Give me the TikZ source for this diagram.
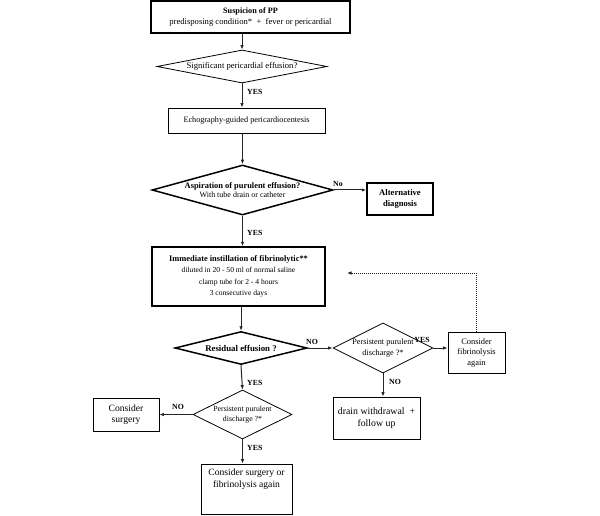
\documentclass[tikz,border=0pt]{standalone}
\usepackage{fontspec}
\setmainfont{Liberation Serif}
\usetikzlibrary{shapes.geometric,arrows.meta}
\begin{document}
\begin{tikzpicture}[x=1pt,y=-1pt,
  box/.style={draw=black,line width=0.8pt,rectangle,inner sep=1pt,align=center},
  thickbox/.style={box,line width=1.5pt},
  dia/.style={draw=black,line width=0.8pt,diamond,inner sep=0pt,align=center},
  thickdia/.style={dia,line width=1.5pt},
  conn/.style={draw=black!85,line width=1pt,-{Latex[length=4.5pt,width=3.5pt]}},
  lab/.style={font=\fontsize{7.8}{8}\selectfont\bfseries,inner sep=0pt}
]
\useasboundingbox (0,0) rectangle (600,516);
\fill[white] (0,0) rectangle (600,516);

\node[thickbox,minimum width=199pt,minimum height=32pt,font=\fontsize{8.6}{10.5}\selectfont] (top) at (250.5,17)
  {\textbf{\fontsize{8.2}{10.5}\selectfont Suspicion of PP}\\predisposing condition*\ \ +\ \ fever or pericardial};
\node[dia,aspect=5.15,minimum width=170pt,minimum height=33pt,font=\fontsize{8.6}{9}\selectfont] (sig) at (242,66.5)
  {Significant pericardial effusion?};
\node[box,minimum width=157pt,minimum height=25pt,font=\fontsize{8.2}{10}\selectfont] (echo) at (246.5,120.5)
  {Echography-guided pericardiocentesis};
\node[thickdia,aspect=3.6,minimum width=181pt,minimum height=50pt,font=\fontsize{8}{9.5}\selectfont] (asp) at (242.5,190)
  {\textbf{\fontsize{8.4}{9.5}\selectfont Aspiration of purulent effusion?}\\With tube drain or catheter};
\node[thickbox,minimum width=66pt,minimum height=32pt,font=\fontsize{8.6}{11}\selectfont\bfseries] (alt) at (400,199)
  {Alternative\\diagnosis};
\node[thickbox,minimum width=173pt,minimum height=59pt,font=\fontsize{7.6}{11.3}\selectfont] (fib) at (238.5,276.5)
  {\textbf{\fontsize{8.4}{11.3}\selectfont Immediate instillation of fibrinolytic**}\\diluted in 20 - 50 ml of normal saline\\clamp tube for 2 - 4 hours\\3 consecutive days};
\node[thickdia,aspect=4,minimum width=132pt,minimum height=33pt,font=\fontsize{8.8}{9}\selectfont\bfseries] (res) at (241,348)
  {Residual effusion ?};
\node[dia,aspect=2,minimum width=100pt,minimum height=50pt,font=\fontsize{8.2}{10.5}\selectfont] (per1) at (383,348)
  {Persistent purulent\\discharge ?*};
\node[box,minimum width=57pt,minimum height=41pt,font=\fontsize{8.4}{10.5}\selectfont] (cfa) at (476.5,352.5)
  {Consider\\fibrinolysis\\again};
\node[box,minimum width=87pt,minimum height=42pt,font=\fontsize{9.8}{12.5}\selectfont] (drain) at (376.5,418)
  {drain withdrawal\ \ +\\follow up};
\node[dia,aspect=2,minimum width=99pt,minimum height=49pt,font=\fontsize{7.8}{10}\selectfont] (per2) at (242.5,414.5)
  {Persistent purulent\\discharge ?*};
\node[box,minimum width=66pt,minimum height=33pt,font=\fontsize{9.6}{11.5}\selectfont] (csurg) at (126,414.5)
  {Consider\\surgery};
\node[box,minimum width=91pt,minimum height=50pt] (final) at (246.5,489) {};
\node[align=center,anchor=north,inner sep=0pt,font=\fontsize{9.6}{12}\selectfont] (finaltxt) at ([yshift=-5pt]final.north)
  {Consider surgery or\\fibrinolysis again};

\coordinate (fibret) at (347,273);

\draw[conn] (top.south -| sig.north) -- (sig.north);
\draw[conn] (sig.south) -- (sig.south |- echo.north);
\draw[conn] (echo.south -| asp.north) -- (asp.north);
\draw[conn] (asp.east) -- (asp.east -| alt.west);
\draw[conn] (asp.south) -- (asp.south |- fib.north);
\draw[conn] (res.north |- fib.south) -- (res.north);
\draw[conn] (res.east) -- (per1.west);
\draw[conn] (per1.east) -- (per1.east -| cfa.west);
\draw[conn,densely dotted] (cfa.north) |- (fibret);
\draw[conn] (per1.south) -- (per1.south |- drain.north);
\draw[conn] (res.south) -- (per2.north);
\draw[conn] (per2.west) -- (per2.west -| csurg.east);
\draw[conn] (per2.south) -- (per2.south |- final.north);

\node[lab,anchor=west] (l1) at (247,92) {YES};
\node[lab,anchor=west] (l2) at (247,233) {YES};
\node[lab] (l3) at (338,184) {No};
\node[lab] (l4) at (312,342) {NO};
\node[lab] (l5) at (422,340) {YES};
\node[lab] (l6) at (395,382) {NO};
\node[lab,anchor=west] (l7) at (247,383) {YES};
\node[lab] (l8) at (178,407) {NO};
\node[lab,anchor=west] (l9) at (247,448) {YES};
\end{tikzpicture}
\end{document}
